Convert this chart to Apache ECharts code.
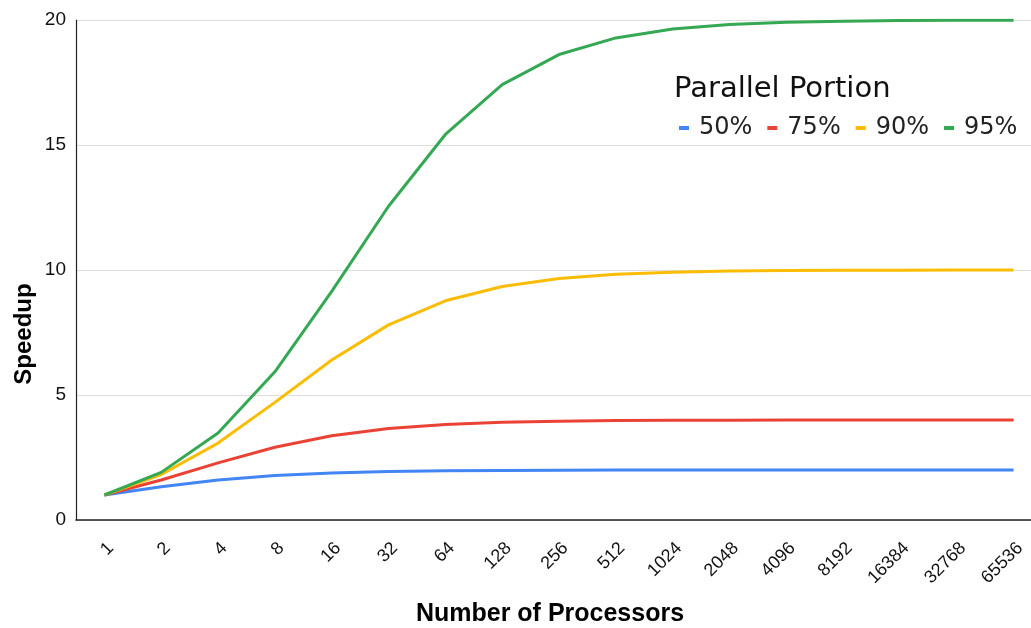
<!DOCTYPE html>
<html>
<head>
<meta charset="utf-8">
<script src="https://cdn.jsdelivr.net/npm/echarts@6/dist/echarts.min.js"></script>
<style>
  html, body { margin: 0; padding: 0; background: #fff; }
  #chart { width: 1031px; height: 628px; }
</style>
</head>
<body>
<div id="chart"></div>
<script>
// Processor counts along the x axis
const processors = ['1','2','4','8','16','32','64','128','256','512','1024','2048','4096','8192','16384','32768','65536'];

// Speedup for each parallel portion
const p50 = [1, 1.333, 1.6, 1.778, 1.882, 1.939, 1.969, 1.984, 1.992, 1.996, 1.998, 1.999, 2.0, 2.0, 2.0, 2.0, 2.0];
const p75 = [1, 1.6, 2.286, 2.909, 3.368, 3.657, 3.821, 3.908, 3.954, 3.977, 3.988, 3.994, 3.997, 3.999, 3.999, 4.0, 4.0];
const p90 = [1, 1.818, 3.077, 4.706, 6.4, 7.805, 8.767, 9.343, 9.66, 9.827, 9.913, 9.956, 9.978, 9.989, 9.995, 9.997, 9.999];
const p95 = [1, 1.905, 3.478, 5.926, 9.143, 12.549, 15.422, 17.415, 18.618, 19.284, 19.636, 19.816, 19.908, 19.954, 19.977, 19.988, 19.994];

const seriesNames = ['50%', '75%', '90%', '95%'];
const seriesData = [p50, p75, p90, p95];
const colors = ['#4285F4', '#EA4335', '#FBBC04', '#34A853'];

const chart = echarts.init(document.getElementById('chart'), null, { renderer: 'canvas' });

const axisTickStyle = { color: '#333', width: 1 };

chart.setOption({
  animation: false,
  backgroundColor: '#ffffff',
  color: colors,
  // plot spans slightly past the right edge so the last band is clipped
  grid: { left: 76, width: 966, top: 20, height: 500, containLabel: false, outerBoundsMode: 'none' },
  legend: {
    data: seriesNames,
    left: 674,
    top: 111,
    itemWidth: 10,
    itemHeight: 4,
    itemGap: 15,
    icon: 'rect',
    textStyle: { fontFamily: 'DejaVu Sans', fontSize: 24, color: '#222', padding: [0, 0, 0, 5] }
  },
  xAxis: [
    {
      type: 'category',
      data: processors,
      boundaryGap: true,
      axisLine: { lineStyle: { color: '#222', width: 1.5 } },
      axisTick: { alignWithLabel: true, length: 5, lineStyle: axisTickStyle },
      axisLabel: {
        rotate: 45,
        margin: 19,
        verticalAlign: 'top',
        fontFamily: 'Liberation Sans',
        fontSize: 18,
        color: '#111',
        interval: 0
      },
      splitLine: { show: false }
    },
    {
      // upper half of the tick marks, crossing the axis line
      type: 'category',
      data: processors,
      position: 'bottom',
      boundaryGap: true,
      axisLine: { show: false },
      axisTick: { inside: true, alignWithLabel: true, length: 5, lineStyle: axisTickStyle },
      axisLabel: { show: false },
      splitLine: { show: false }
    }
  ],
  yAxis: {
    type: 'value',
    min: 0,
    max: 20,
    interval: 5,
    axisLine: { show: true, lineStyle: { color: '#222', width: 1.2 } },
    axisTick: { show: false },
    axisLabel: { fontFamily: 'Liberation Sans', fontSize: 19, color: '#111', margin: 10 },
    splitLine: { lineStyle: { color: '#dddddd', width: 1 } }
  },
  series: seriesNames.map((name, i) => ({
    name: name,
    type: 'line',
    data: seriesData[i],
    showSymbol: false,
    symbol: 'none',
    lineStyle: { width: 3, color: colors[i] },
    itemStyle: { color: colors[i] }
  })),
  graphic: [
    {
      type: 'text',
      left: 674,
      top: 75,
      style: { text: 'Parallel Portion', fontFamily: 'DejaVu Sans', fontSize: 29, fill: '#111' }
    },
    {
      type: 'text',
      x: 550,
      y: 614,
      style: {
        text: 'Number of Processors',
        fontFamily: 'Liberation Sans',
        fontWeight: 'bold',
        fontSize: 25,
        fill: '#000',
        align: 'center',
        verticalAlign: 'middle'
      }
    },
    {
      type: 'text',
      x: 24,
      y: 334,
      rotation: Math.PI / 2,
      style: {
        text: 'Speedup',
        fontFamily: 'Liberation Sans',
        fontWeight: 'bold',
        fontSize: 24,
        fill: '#000',
        align: 'center',
        verticalAlign: 'middle'
      }
    }
  ]
});
</script>
</body>
</html>
